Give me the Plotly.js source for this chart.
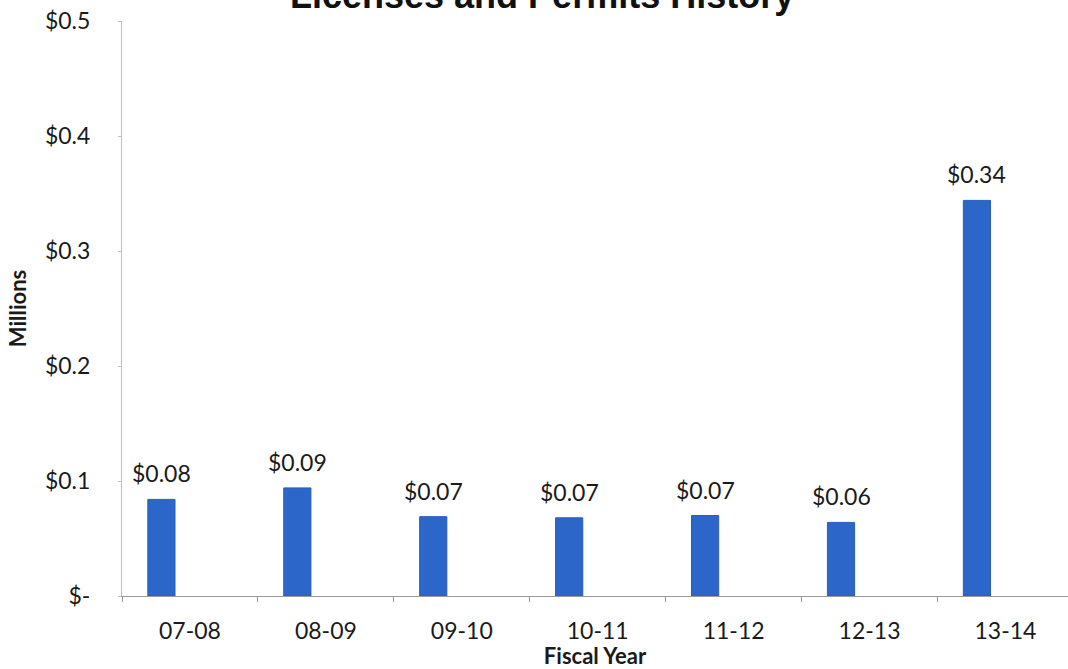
<!DOCTYPE html>
<html>
<head>
<meta charset="utf-8">
<script src="https://cdn.plot.ly/plotly-3.0.1.min.js"></script>
<style>html,body{margin:0;padding:0;background:#fff;}#chart{width:1068px;height:669px;}</style>
</head>
<body>
<div id="chart"></div>
<script>
const chartTitle = "Licenses and Permits History";
const categories = ["07-08", "08-09", "09-10", "10-11", "11-12", "12-13", "13-14"];
const revenue = [0.084, 0.094, 0.069, 0.068, 0.070, 0.064, 0.344];
const yTickVals = [0, 0.1, 0.2, 0.3, 0.4, 0.5];
const yTickText = ["$-", "$0.1", "$0.2", "$0.3", "$0.4", "$0.5"];

const labelFont = {family: "Lato, 'Open Sans', sans-serif", size: 23, color: "#1a1a1a"};
const axisTitleFont = {family: "Lato, 'Open Sans', sans-serif", size: 22, color: "#1a1a1a", weight: "bold"};

const trace = {
  type: "bar",
  x: categories,
  y: revenue,
  offset: -0.31,
  width: 0.2,
  marker: {color: "#2d66c9", line: {color: "#2a5cb8", width: 1}},
  hoverinfo: "skip"
};

const annotations = revenue.map((v, i) => ({
  x: i - 0.21,
  y: v,
  xref: "x",
  yref: "y",
  text: "$" + v.toFixed(2),
  showarrow: false,
  yanchor: "bottom",
  yshift: 10,
  font: labelFont
}));

annotations.push({
  text: chartTitle,
  xref: "paper",
  yref: "paper",
  x: 0.4435,
  y: 1.0445,
  xanchor: "center",
  yanchor: "middle",
  showarrow: false,
  font: {family: "'Liberation Sans', Arial, sans-serif", size: 36, color: "#111111", weight: "bold"}
});

const layout = {
  width: 1068,
  height: 669,
  margin: {l: 122, r: 0, t: 21, b: 73},
  paper_bgcolor: "#ffffff",
  plot_bgcolor: "#ffffff",
  showlegend: false,
  xaxis: {
    type: "category",
    range: [-0.5, 6.46],
    showgrid: false,
    showline: true,
    linecolor: "#9a9a9a",
    linewidth: 1,
    ticks: "outside",
    tickson: "boundaries",
    ticklen: 5,
    tickcolor: "#9a9a9a",
    tickfont: labelFont,
    ticklabelstandoff: 14,
    zeroline: false,
    title: {text: "Fiscal Year", font: axisTitleFont, standoff: 3}
  },
  yaxis: {
    range: [0, 0.5],
    tickvals: yTickVals,
    ticktext: yTickText,
    showgrid: false,
    showline: true,
    linecolor: "#b9c0d0",
    linewidth: 1,
    ticks: "outside",
    ticklen: 3,
    tickcolor: "#b9c0d0",
    tickfont: labelFont,
    ticklabelstandoff: 23,
    zeroline: false,
    title: {text: "Millions", font: axisTitleFont, standoff: 12}
  },
  annotations: annotations
};

Plotly.newPlot("chart", [trace], layout, {displayModeBar: false, staticPlot: true});
</script>
</body>
</html>
